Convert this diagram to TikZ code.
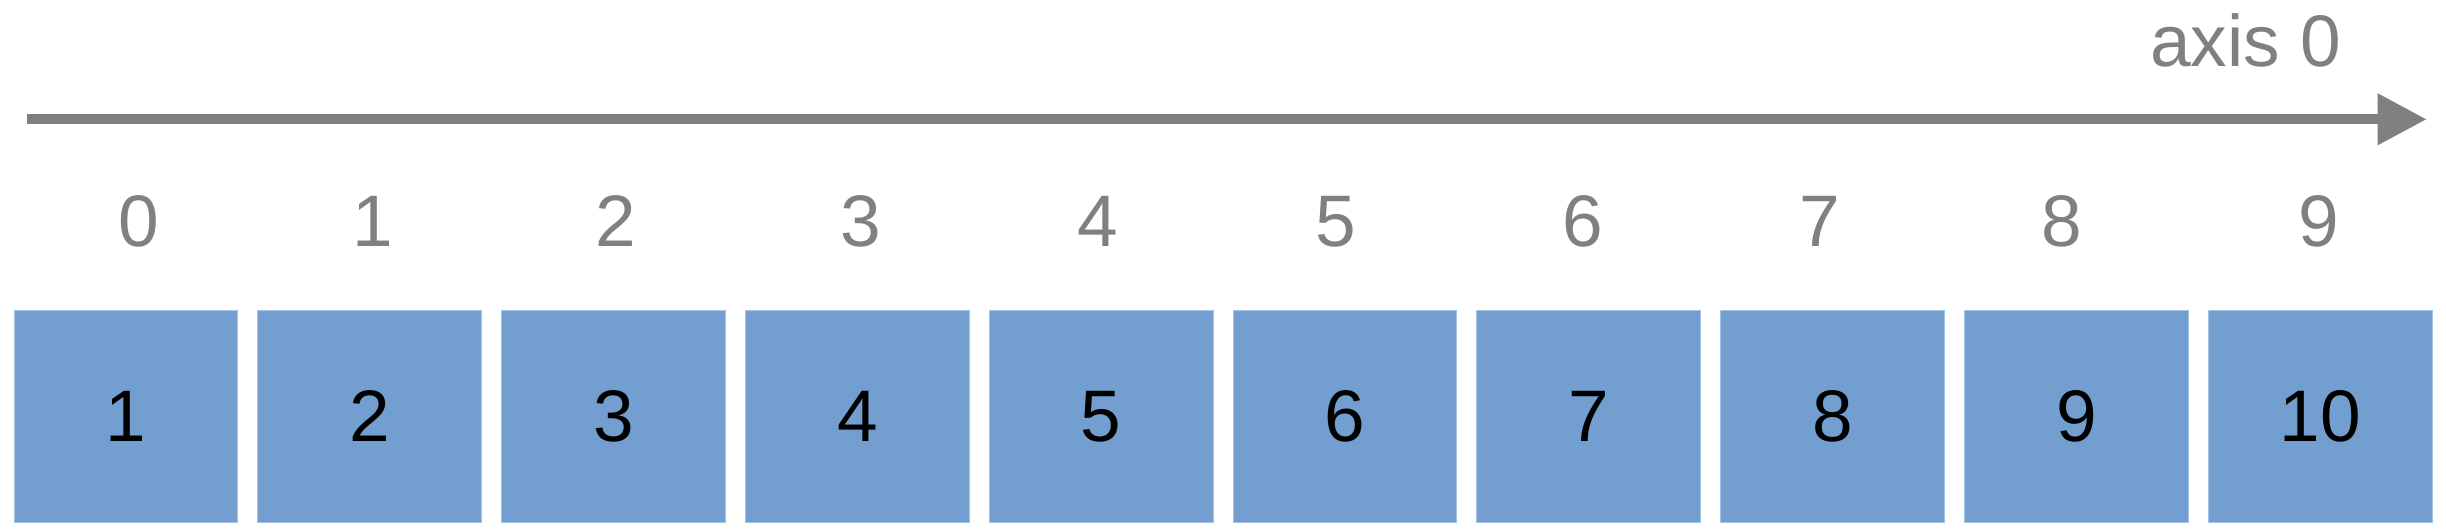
\documentclass[tikz,border=0pt]{standalone}
\usepackage{fontspec}
\setmainfont{Liberation Sans}
\usetikzlibrary{arrows.meta}
\definecolor{boxblue}{HTML}{729FCF}
\definecolor{boxedge}{HTML}{A4C2E4}
\definecolor{axisgray}{HTML}{808080}
\begin{document}
\begin{tikzpicture}[x=1pt,y=-1pt,
  cell/.style={draw=boxedge, line width=1pt, fill=boxblue, minimum width=223.8pt,
    minimum height=212pt, inner sep=0pt, anchor=north west,
    font=\fontsize{73}{80}\selectfont, text=black},
  idx/.style={anchor=base, inner sep=0pt, font=\fontsize{73}{80}\selectfont, text=axisgray},
  axisline/.style={draw=axisgray, line width=10pt, -{Triangle[length=49pt,width=49pt]}},
]
\useasboundingbox (0,0) rectangle (2446,532);
% axis
\coordinate (axstart) at (27,119.3);
\coordinate (axend) at (2426.7,119.3);
\draw[axisline] (axstart) -- (axend);
\node[idx, anchor=base west] (axislabel) at (2150,67) {axis 0};
% index labels
\foreach \i/\x in {0/138.7,1/373,2/616,3/861,4/1098,5/1336,6/1583,7/1820,8/2062,9/2319} {
  \node[idx] (idx\i) at (\x,246) {\i};
}
% cells
\foreach \i in {0,...,9} {
  \pgfmathtruncatemacro{\v}{\i+1}
  \node[cell] (cell\i) at ({13.5+243.8*\i},309.8) {\v};
}
\end{tikzpicture}
\end{document}
